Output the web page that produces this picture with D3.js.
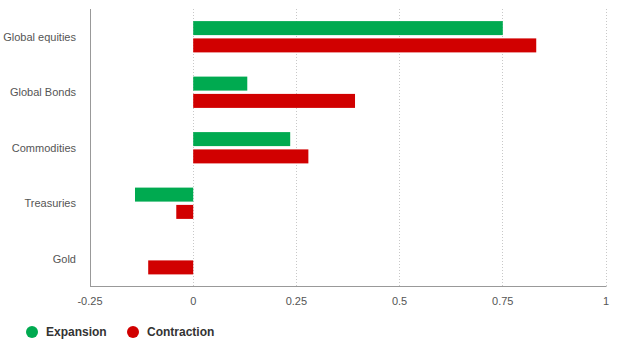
<!DOCTYPE html>
<html><head><meta charset="utf-8">
<script src="https://cdn.jsdelivr.net/npm/d3@7"></script>
<style>body{margin:0;background:#fff;font-family:"Liberation Sans",Arial,Helvetica,sans-serif;}</style>
</head><body><svg id="c" width="620" height="348"></svg>
<script>
const categories = ["Global equities","Global Bonds","Commodities","Treasuries","Gold"];
const expansion = [0.75, 0.131, 0.235, -0.141, null];
const contraction = [0.831, 0.392, 0.279, -0.041, -0.109];
const ticks = [-0.25, 0, 0.25, 0.5, 0.75, 1];
const seriesNames = ["Expansion","Contraction"];
const colors = ["#00aa50","#d10000"];

const svg = d3.select("#c");
const m = {l:90, r:606, t:9, b:286.5};
const x = d3.scaleLinear().domain([-0.25,1]).range([m.l, m.r]);
const y = d3.scaleBand().domain(categories).range([m.t, m.b]);

// grid
svg.append("g").selectAll("line").data(ticks.filter(t=>t!==-0.25)).join("line")
  .attr("x1",d=>Math.floor(x(d))+0.5).attr("x2",d=>Math.floor(x(d))+0.5)
  .attr("y1",m.t).attr("y2",m.b)
  .attr("stroke","#c8c8c8").attr("stroke-dasharray","1,2");

const data = [expansion, contraction];
const barH = 14, gap = 3.3;
data.forEach((vals,si)=>{
  svg.append("g").selectAll("rect").data(categories.map((c,i)=>({c,v:vals[i]})).filter(d=>d.v!=null)).join("rect")
    .attr("x",d=>x(Math.min(0,d.v)))
    .attr("width",d=>Math.abs(x(d.v)-x(0)))
    .attr("y",d=>y(d.c)+y.bandwidth()/2 + (si===0 ? -(barH+gap/2) : gap/2))
    .attr("height",barH)
    .attr("fill",colors[si]);
});

// axes lines
svg.append("line").attr("x1",m.l+0.5).attr("x2",m.l+0.5).attr("y1",m.t).attr("y2",m.b).attr("stroke","#999");
svg.append("line").attr("x1",m.l).attr("x2",m.r+0.5).attr("y1",m.b).attr("y2",m.b).attr("stroke","#999");

// category labels
svg.append("g").selectAll("text").data(categories).join("text")
  .attr("x",76).attr("y",d=>y(d)+y.bandwidth()/2).attr("dy","0.35em")
  .attr("text-anchor","end").attr("font-size",11).attr("fill","#555").text(d=>d);

// tick labels
svg.append("g").selectAll("text").data(ticks).join("text")
  .attr("x",d=>x(d)).attr("y",301).attr("dy","0.35em")
  .attr("text-anchor","middle").attr("font-size",11).attr("fill","#555").text(d=>String(d));

// legend
const lx = [32,133];
seriesNames.forEach((n,i)=>{
  svg.append("circle").attr("cx",lx[i]).attr("cy",332).attr("r",6).attr("fill",colors[i]);
  svg.append("text").attr("x",lx[i]+14).attr("y",332).attr("dy","0.35em")
    .attr("font-size",12).attr("font-weight","bold").attr("fill","#333").text(n);
});
</script></body></html>
